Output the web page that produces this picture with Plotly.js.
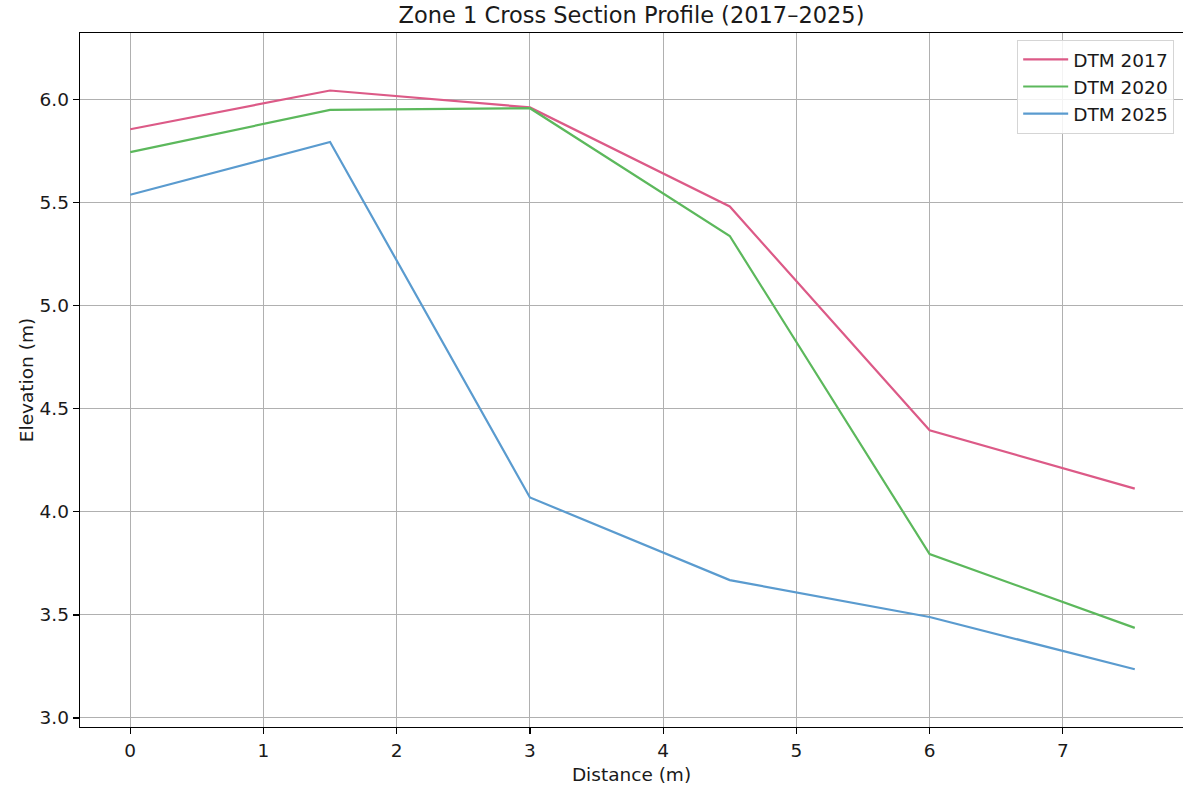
<!DOCTYPE html>
<html>
<head>
<meta charset="utf-8">
<script src="https://cdn.plot.ly/plotly-3.0.1.min.js"></script>
<style>
html,body{margin:0;padding:0;background:#fff;}
#chart{width:1183px;height:791px;}
</style>
</head>
<body>
<div id="chart"></div>
<script>
const distance = [0, 1.5, 3, 4.5, 6, 7.54];
const dtm2017 = [5.857, 6.045, 5.963, 5.482, 4.396, 4.113];
const dtm2020 = [5.746, 5.951, 5.959, 5.339, 3.795, 3.437];
const dtm2025 = [5.539, 5.795, 4.070, 3.669, 3.490, 3.236];
const seriesNames = ["DTM 2017", "DTM 2020", "DTM 2025"];
const seriesColors = ["#dc5a87", "#5cb85c", "#5a9bcf"];
const xTicks = [0, 1, 2, 3, 4, 5, 6, 7];
const yTicks = [3.0, 3.5, 4.0, 4.5, 5.0, 5.5, 6.0];

const seriesValues = [dtm2017, dtm2020, dtm2025];
const traces = seriesValues.map((vals, i) => ({
  x: distance,
  y: vals,
  type: 'scatter',
  mode: 'lines',
  name: seriesNames[i],
  line: {color: seriesColors[i], width: 2.2}
}));

const font = {family: 'DejaVu Sans, sans-serif', color: '#1a1a1a'};

const layout = {
  width: 1183,
  height: 791,
  margin: {l: 80, r: 0, t: 33, b: 64},
  paper_bgcolor: '#fff',
  plot_bgcolor: '#fff',
  font: Object.assign({size: 18.5}, font),
  title: {
    text: 'Zone 1 Cross Section Profile (2017–2025)',
    font: Object.assign({size: 22.5}, font),
    x: 0.5, xref: 'paper', xanchor: 'center',
    y: 1, yref: 'container', yanchor: 'top', pad: {t: 7}
  },
  xaxis: {
    range: [-0.377, 7.902],
    tickvals: xTicks,
    ticktext: xTicks.map(String),
    ticks: 'outside', ticklen: 6, tickwidth: 1.2, tickcolor: '#000',
    showline: true, linecolor: '#000', linewidth: 1.3, mirror: true,
    showgrid: true, gridcolor: '#b0b0b0', gridwidth: 1.1,
    zeroline: false,
    tickfont: Object.assign({size: 18.5}, font),
    title: {text: 'Distance (m)', font: Object.assign({size: 18.5}, font), standoff: 8}
  },
  yaxis: {
    range: [2.956, 6.324],
    tickvals: yTicks,
    ticktext: yTicks.map(v => v.toFixed(1)),
    ticks: 'outside', ticklen: 6, tickwidth: 1.2, tickcolor: '#000',
    showline: true, linecolor: '#000', linewidth: 1.3, mirror: false,
    showgrid: true, gridcolor: '#b0b0b0', gridwidth: 1.1,
    zeroline: false,
    tickfont: Object.assign({size: 18.5}, font),
    title: {text: 'Elevation (m)', font: Object.assign({size: 18.5}, font), standoff: 1}
  },
  showlegend: true,
  legend: {
    x: 0.992, xanchor: 'right',
    y: 0.99, yanchor: 'top',
    bgcolor: 'rgba(255,255,255,0.85)',
    bordercolor: '#d5d5d5', borderwidth: 1,
    font: Object.assign({size: 18.5}, font),
    itemwidth: 45,
    tracegroupgap: 0
  }
};

Plotly.newPlot('chart', traces, layout, {displayModeBar: false, staticPlot: true});
</script>
</body>
</html>
